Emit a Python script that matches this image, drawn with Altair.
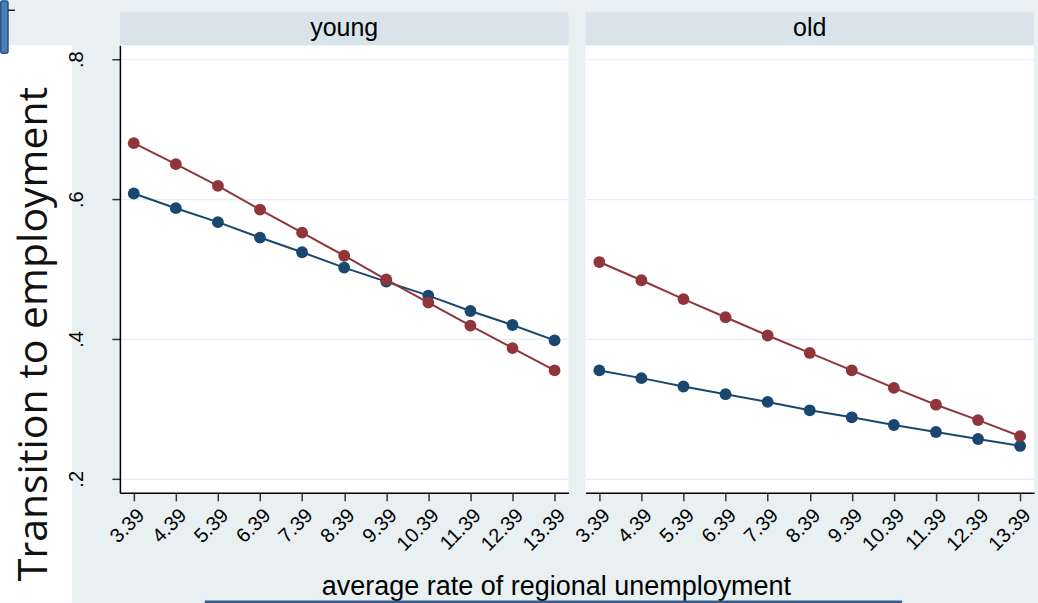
import altair as alt
import pandas as pd

# ---- data -------------------------------------------------------------
unemp = [3.39, 4.39, 5.39, 6.39, 7.39, 8.39, 9.39, 10.39, 11.39, 12.39, 13.39]

young_s1 = [0.608, 0.587, 0.567, 0.545, 0.524, 0.502, 0.482, 0.462, 0.440, 0.420, 0.398]
young_s2 = [0.680, 0.650, 0.619, 0.585, 0.552, 0.519, 0.485, 0.452, 0.419, 0.387, 0.355]
old_s1 = [0.355, 0.344, 0.332, 0.321, 0.310, 0.298, 0.288, 0.277, 0.267, 0.257, 0.247]
old_s2 = [0.510, 0.484, 0.457, 0.431, 0.405, 0.380, 0.355, 0.330, 0.306, 0.284, 0.261]

panels = ["young", "old"]
y_ticks = [0.2, 0.4, 0.6, 0.8]
y_title = "Transition to employment"
x_title = "average rate of regional unemployment"

series_colors = {"s1": "#1a476f", "s2": "#90353b"}

rows = []
for panel, s1, s2 in [("young", young_s1, young_s2), ("old", old_s1, old_s2)]:
    for x, a, b in zip(unemp, s1, s2):
        rows.append({"panel": panel, "series": "s1", "x": x, "y": a})
        rows.append({"panel": panel, "series": "s2", "x": x, "y": b})
df = pd.DataFrame(rows)

# ---- styling ----------------------------------------------------------
FONT = "Liberation Sans"
BG = "#E8F0F2"
HEADER = "#D8E4EA"
GRID = "#E4EDF0"
PANEL_W = 449
PANEL_H = 448

x_scale = alt.Scale(domain=[3.06, 13.72], nice=False, zero=False)
y_scale = alt.Scale(domain=[0.18, 0.82], nice=False, zero=False)

x_axis = alt.Axis(
    values=unemp, format=".2f", title=None,
    labelAngle=-45, labelAlign="right", labelBaseline="top", labelPadding=4,
    labelOverlap=False, labelFlush=False,
    labelFont=FONT, labelFontSize=20, labelColor="#000000",
    tickSize=8, tickColor="#333333", tickWidth=1.5,
    domainColor="#000000", domainWidth=1.5, grid=False,
)

y_axis_left = alt.Axis(
    values=y_ticks, title=None,
    labelExpr="substring(format(datum.value, '.1f'), 1)",
    labelAngle=-90, labelAlign="center", labelBaseline="alphabetic", labelPadding=29,
    labelFont=FONT, labelFontSize=20, labelColor="#000000",
    tickSize=8, tickColor="#333333", tickWidth=1.5,
    domainColor="#000000", domainWidth=1.5,
    grid=True, gridColor=GRID, gridWidth=1.2,
)

y_axis_inner = alt.Axis(
    values=y_ticks, title=None, labels=False, ticks=False, domain=False,
    grid=True, gridColor=GRID, gridWidth=1.2,
)


def panel_chart(name, y_axis):
    data = df[df["panel"] == name]
    label_df = pd.DataFrame({"label": [name]})

    band = alt.Chart(label_df).mark_rect(color=HEADER).encode(
        x=alt.value(0), x2=alt.value(PANEL_W), y=alt.value(-33), y2=alt.value(0)
    )
    head = alt.Chart(label_df).mark_text(
        font=FONT, fontSize=25, color="#000000", align="center", baseline="middle"
    ).encode(x=alt.value(PANEL_W / 2), y=alt.value(-17), text="label:N")

    layers = [band, head]
    for s, col in series_colors.items():
        sd = data[data["series"] == s]
        enc = dict(
            x=alt.X("x:Q", scale=x_scale, axis=x_axis),
            y=alt.Y("y:Q", scale=y_scale, axis=y_axis),
        )
        layers.append(alt.Chart(sd).mark_line(color=col, strokeWidth=2).encode(**enc))
        layers.append(
            alt.Chart(sd).mark_point(
                filled=True, shape="circle", size=140, color=col, opacity=1
            ).encode(**enc)
        )
    return alt.layer(*layers).properties(width=PANEL_W, height=PANEL_H)


young = panel_chart("young", y_axis_left)
old = panel_chart("old", y_axis_inner)

# ---- left strip with the large y title, shared x title, slide trim ----
one = pd.DataFrame({"ytitle": [y_title], "xtitle": [x_title]})

strip = alt.Chart(one).mark_rect(color="#FFFFFF").encode(
    x=alt.value(0), x2=alt.value(72), y=alt.value(5), y2=alt.value(558)
)
tab = alt.Chart(one).mark_rect(
    color="#4A7EBB", stroke="#2C5385", strokeWidth=1.5, cornerRadius=2
).encode(x=alt.value(0.75), x2=alt.value(8), y=alt.value(-44.25), y2=alt.value(8))
tab_line = alt.Chart(one).mark_rule(color="#222222", strokeWidth=1.5).encode(
    x=alt.value(8), x2=alt.value(15), y=alt.value(-35)
)
ytxt = alt.Chart(one).mark_text(
    angle=270, font="Open Sans", fontSize=41, color="#111111",
    align="center", baseline="middle",
).encode(x=alt.value(35), y=alt.value(289), text="ytitle:N")
xtxt = alt.Chart(one).mark_text(
    font=FONT, fontSize=27, color="#000000", align="center", baseline="middle"
).encode(x=alt.value(557), y=alt.value(542), text="xtitle:N")
bottom_line = alt.Chart(one).mark_rule(color="#3A5D8C", strokeWidth=2.5).encode(
    x=alt.value(205), x2=alt.value(903), y=alt.value(557)
)

left = alt.layer(strip, tab, tab_line, ytxt, xtxt, bottom_line).properties(
    width=72, height=PANEL_H
)

panels_row = alt.hconcat(young, old, spacing=17, bounds="flush")

chart = (
    alt.hconcat(left, panels_row, spacing=48, bounds="flush")
    .properties(padding={"left": 0, "top": 0, "right": 3, "bottom": 0}, background=BG)
    .configure_view(strokeWidth=0, fill="#FFFFFF")
)

chart.save("out.html", embed_options={"renderer": "svg", "actions": False})
